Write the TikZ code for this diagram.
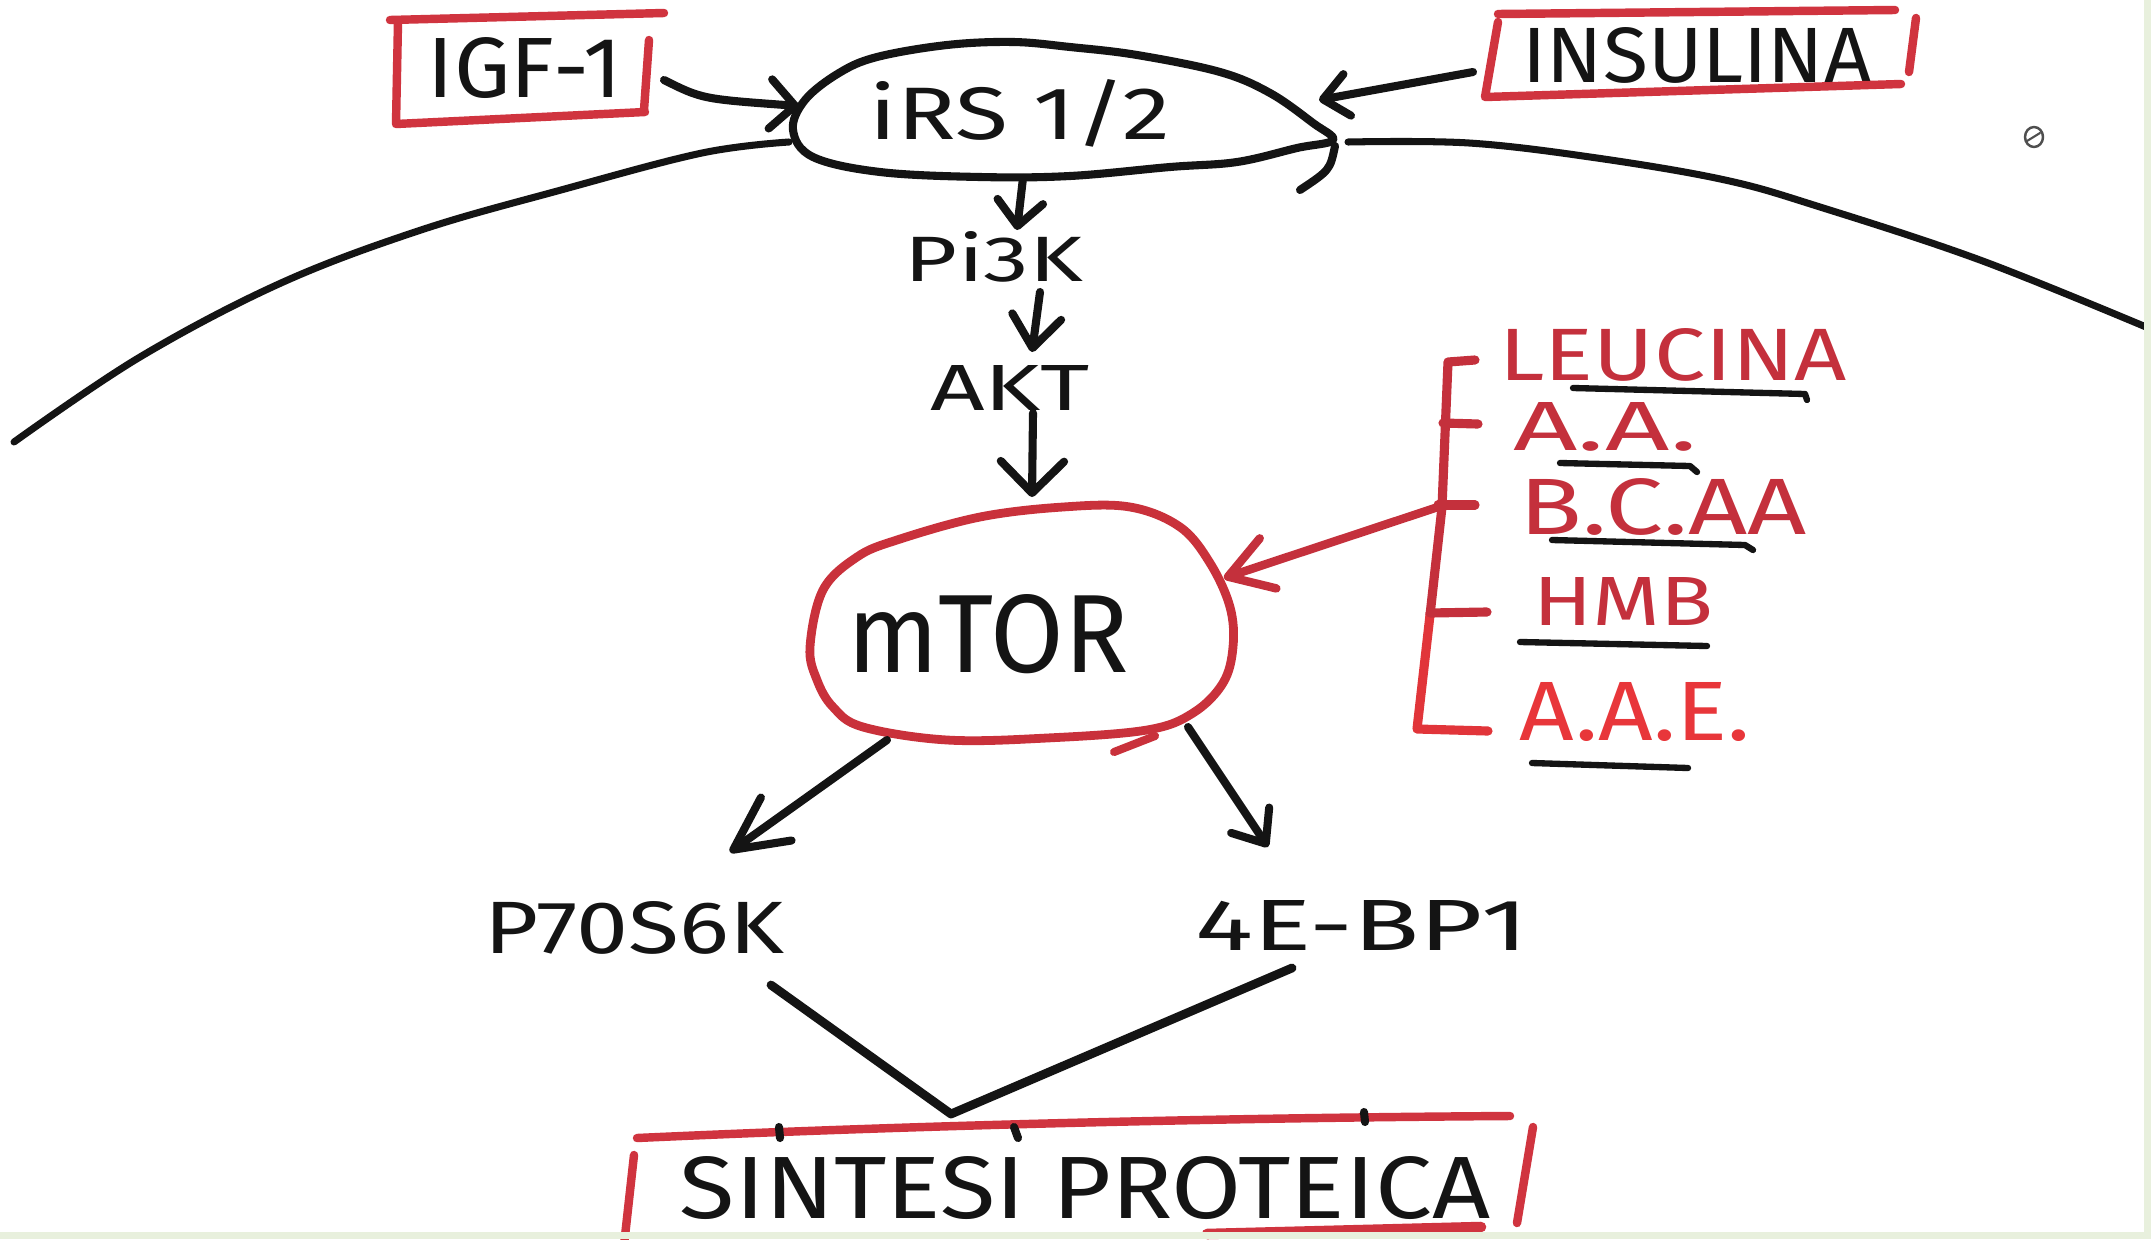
\documentclass[tikz,border=0pt]{standalone}
\usepackage{fontspec}
\usepackage{graphicx}
\newfontfamily\hand{Fira Sans}
\usetikzlibrary{arrows.meta,calc}
\definecolor{inkblack}{HTML}{141414}
\definecolor{boxred}{HTML}{D0343F}
\definecolor{ringred}{HTML}{C9313B}
\definecolor{darkred}{HTML}{C4303C}
\definecolor{brightred}{HTML}{E8363A}
\definecolor{edgegreen}{HTML}{E8F0DD}
\newlength\px
\setlength\px{0.01cm}
% set a label into a box of given width and height (in px units)
\newcommand\fitbox[3]{\resizebox{#1\px}{#2\px}{#3}}
\begin{document}
\begin{tikzpicture}[x=0.01cm,y=-0.01cm,line cap=round,line join=round,
  pen/.style={draw=inkblack,line width=2.3pt},
  thinpen/.style={draw=inkblack,line width=1.8pt},
  redpen/.style={draw=boxred,line width=2.4pt},
  lbl/.style={inner sep=0pt,font=\hand,text=inkblack},
  redlbl/.style={lbl,text=darkred},
  barb/.style 2 args={-{Straight Barb[length=#1pt,width=#2pt,round]}}]

\useasboundingbox (0,0) rectangle (2151,1239);
\fill[white] (0,0) rectangle (2151,1239);

% ---- cell membrane ----
\draw[pen,line width=2pt] plot[smooth,tension=0.6] coordinates
  {(14,442) (140,357) (281,283) (421,230) (561,190) (702,153) (789,142)};
\draw[pen,line width=2pt] plot[smooth,tension=0.6] coordinates
  {(1348,142) (1469,143) (1597,158) (1725,180) (1820,207) (1980,260) (2146,327)};

% ---- labels ----
\node[lbl] (igf)  at (525,68)   {\fitbox{194}{60}{IGF-1}};
\node[lbl] (ins)  at (1697,55)  {\fitbox{349}{55}{INSULINA}};
\node[lbl] (irs)  at (1020,113) {\fitbox{300}{60}{iRS 1/2}};
\node[lbl] (pi3k) at (994,257)  {\fitbox{178}{50}{Pi3K}};
\node[lbl] (akt)  at (1010,388) {\fitbox{160}{45}{AKT}};
\node[lbl] (mtor) at (988,634)  {\fitbox{281}{78}{mTOR}};
\node[lbl] (p70)  at (634,928)  {\fitbox{300}{52}{P70S6K}};
\node[lbl] (eb)   at (1362,925) {\fitbox{333}{50}{4E-BP1}};
\node[lbl] (sint) at (1085,1188) {\fitbox{810}{62}{SINTESI PROTEICA}};

\node[redlbl] (leu)  at (1673,355) {\fitbox{347}{52}{LEUCINA}};
\node[redlbl] (aa)   at (1605,427) {\fitbox{184}{48}{A.A.}};
\node[redlbl] (bcaa) at (1663,507) {\fitbox{287}{56}{B.C.AA}};
\node[redlbl] (hmb)  at (1623,601) {\fitbox{180}{48}{HMB}};
\node[redlbl,text=brightred] (aae) at (1635,712) {\fitbox{230}{58}{A.A.E.}};

% ---- IRS outline ----
\draw[pen] plot[smooth cycle,tension=0.6] coordinates
  {(793,130) (805,100) (839,73) (877,57) (947,45) (1013,42) (1070,47)
   (1137,55) (1220,72) (1270,93) (1313,123) (1333,140) (1297,148) (1237,162)
   (1170,167) (1070,176) (980,177) (880,172) (813,157)};
\draw[pen] (1335,146) .. controls (1330,170) .. (1300,190);

% ---- mTOR outline ----
\draw[draw=ringred,line width=2.5pt] plot[smooth cycle,tension=0.6] coordinates
  {(810,647) (823,590) (857,557) (897,540) (980,517) (1063,507) (1130,507)
   (1180,527) (1210,563) (1230,607) (1233,647) (1223,683) (1193,713)
   (1147,730) (1047,738) (947,740) (863,727) (833,707) (817,680)};
\draw[draw=ringred,line width=2.3pt] (1114,752) -- (1155,736);

% ---- boxes ----
\draw[redpen] (390,20) -- (664,13);
\draw[redpen] (398,22) -- (396,124) -- (645,112);
\draw[redpen] (649,40) -- (644,110);

\draw[redpen] (1498,14) -- (1895,10);
\draw[redpen] (1498,22) -- (1485,97) -- (1901,84);
\draw[redpen] (1916,18) -- (1909,72);

\draw[redpen] (637,1138) .. controls (900,1126) and (1200,1118) .. (1510,1116);
\draw[redpen] (634,1155) -- (624,1245);
\draw[redpen] (1533,1127) -- (1517,1223);
\draw[redpen,line width=3pt] (1207,1234) -- (1481,1227);
\draw[pen] (779,1127) -- (780,1138);
\draw[pen] (1014,1127) -- (1018,1138);
\draw[pen] (1364,1112) -- (1365,1122);

% ---- connector end points ----
\coordinate (igfout) at (664,80);
\coordinate (irsW)   at (799,106);
\coordinate (insout) at (1473,72);
\coordinate (irsE)   at (1319,100);
\coordinate (irsS)   at (1023,178);
\coordinate (pi3kin) at (1017,230);
\coordinate (pi3kout) at (1040,292);
\coordinate (aktin)  at (1032,352);
\coordinate (aktout) at (1033,413);
\coordinate (mtorN)  at (1032,497);
\coordinate (mtorSW) at (887,740);
\coordinate (p70in)  at (730,852);
\coordinate (mtorSE) at (1188,727);
\coordinate (ebin)   at (1268,847);
\coordinate (p70out) at (771,985);
\coordinate (ebout)  at (1292,968);
\coordinate (join)   at (951,1114);
\coordinate (bjoin)  at (1438,507);
\coordinate (mtorE)  at (1224,578);

% ---- signalling arrows ----
\draw[pen,barb={7}{14}] (igfout) .. controls (702,99) .. (irsW);
\draw[pen,barb={7}{12}] (insout) -- (irsE);
\draw[pen,barb={7}{13}] (irsS) -- (pi3kin);
\draw[pen,barb={9}{14}] (pi3kout) -- (aktin);
\draw[pen,barb={9}{18}] (aktout) -- (mtorN);
\draw[pen,barb={15}{15}] (mtorSW) -- (p70in);
\draw[pen,barb={8}{13}] (mtorSE) -- (ebin);
\draw[pen,line width=2.5pt] (p70out) -- (join) -- (ebout);

% ---- amino acid bracket ----
\draw[draw=darkred,line width=2.6pt] (1475,360) -- (1448,362) -- (1442,507) -- (1430,615);
\draw[draw=brightred!80!darkred,line width=2.6pt] (1430,615) -- (1417,729) -- (1488,731);
\draw[draw=darkred,line width=2.6pt] (1443,423) -- (1478,424);
\draw[draw=darkred,line width=2.6pt] (1438,505) -- (1475,505);
\draw[draw=darkred,line width=2.6pt] (1430,613) -- (1487,612);
\draw[draw=darkred,line width=2.4pt,barb={12}{15}] (bjoin) -- (mtorE);

% underlines
\draw[thinpen] (1573,388) -- (1805,394) -- (1807,400);
\draw[thinpen] (1560,463) -- (1690,466) -- (1697,472);
\draw[thinpen] (1552,540) -- (1745,545) -- (1753,550);
\draw[thinpen] (1520,642) -- (1707,646);
\draw[thinpen] (1532,763) -- (1688,768);

% small ink spot
\draw[draw=inkblack!75,line width=0.7pt] (2034,137) ellipse [x radius=9,y radius=10];
\draw[draw=inkblack!75,line width=0.6pt] (2027,141) -- (2040,133);

% photo edge
\fill[edgegreen] (2144,0) rectangle (2151,1239);
\fill[edgegreen] (0,1232) rectangle (2151,1239);
\end{tikzpicture}
\end{document}
